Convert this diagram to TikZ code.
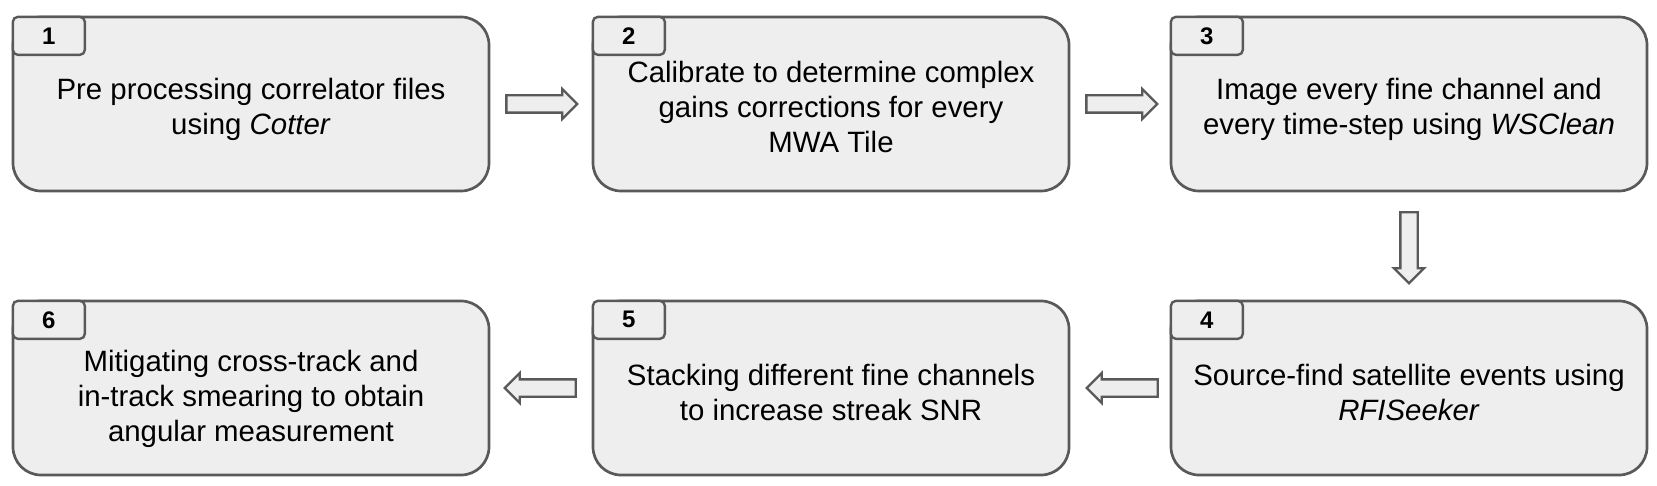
\documentclass[tikz,border=0pt]{standalone}
\usepackage{fontspec}
\setmainfont{Liberation Sans}
\usetikzlibrary{shapes.arrows,calc}
\definecolor{lc}{HTML}{595959}
\definecolor{bg}{HTML}{EEEEEE}
\begin{document}
\begin{tikzpicture}[x=1pt,y=-1pt,
  stepbox/.style={draw=lc, line width=2.7pt, fill=bg, rounded corners=28pt,
    minimum width=476pt, minimum height=174pt, inner sep=0pt},
  tabbox/.style={draw=lc, line width=2.4pt, fill=bg, rounded corners=5pt,
    minimum width=72pt, minimum height=38pt, inner sep=0pt, anchor=north west,
    font=\fontsize{24}{28}\selectfont\bfseries},
  txt/.style={align=center, font=\fontsize{29.4}{35}\selectfont, inner sep=0pt},
  flow/.style={single arrow, draw=lc, fill=bg, line width=2.3pt,
    minimum height=71pt, inner sep=7.5pt, single arrow head extend=6.5pt,
    single arrow tip angle=90, outer sep=0pt, anchor=tail}
]
\useasboundingbox (0,0) rectangle (1657,486);
% boxes
\node[stepbox] (b1) at (251,104) {};
\node[stepbox] (b2) at (831,104) {};
\node[stepbox] (b3) at (1409,104) {};
\node[stepbox] (b6) at (251,388) {};
\node[stepbox] (b5) at (831,388) {};
\node[stepbox] (b4) at (1409,388) {};
% tabs
\node[tabbox] (t1) at (b1.north west) {\raisebox{-2pt}{1}};
\node[tabbox] (t2) at (b2.north west) {\raisebox{-2pt}{2}};
\node[tabbox] (t3) at (b3.north west) {\raisebox{-2pt}{3}};
\node[tabbox] (t4) at (b4.north west) {\raisebox{-2pt}{4}};
\node[tabbox] (t5) at (b5.north west) {\raisebox{-2pt}{5}};
\node[tabbox] (t6) at (b6.north west) {\raisebox{-2pt}{6}};
% texts
\node[txt] (x1) at ($(b1.center)+(0,5)$) {Pre processing correlator files\\using \textit{Cotter}};
\node[txt] (x2) at ($(b2.center)+(0,3)$) {Calibrate to determine complex\\gains corrections for every\\MWA Tile};
\node[txt] (x3) at ($(b3.center)+(0,5)$) {Image every fine channel and\\every time-step using \textit{WSClean}};
\node[txt] (x4) at ($(b4.center)+(0,4)$) {Source-find satellite events using\\\textit{RFISeeker}};
\node[txt] (x5) at ($(b5.center)+(0,4)$) {Stacking different fine channels\\to increase streak SNR};
\node[txt] (x6) at ($(b6.center)+(0,11)$) {Mitigating cross-track and\\in-track smearing to obtain\\angular measurement};
% arrows
\node[flow] (a12) at ($(b1.east)+(16,0)$) {};
\node[flow] (a23) at ($(b2.east)+(16,0)$) {};
\node[flow, shape border rotate=270] (a34) at ($(b3.south)+(0,20)$) {};
\node[flow, shape border rotate=180] (a45) at ($(b4.west)+(-12,0)$) {};
\node[flow, shape border rotate=180] (a56) at ($(b5.west)+(-16,0)$) {};
\end{tikzpicture}
\end{document}
